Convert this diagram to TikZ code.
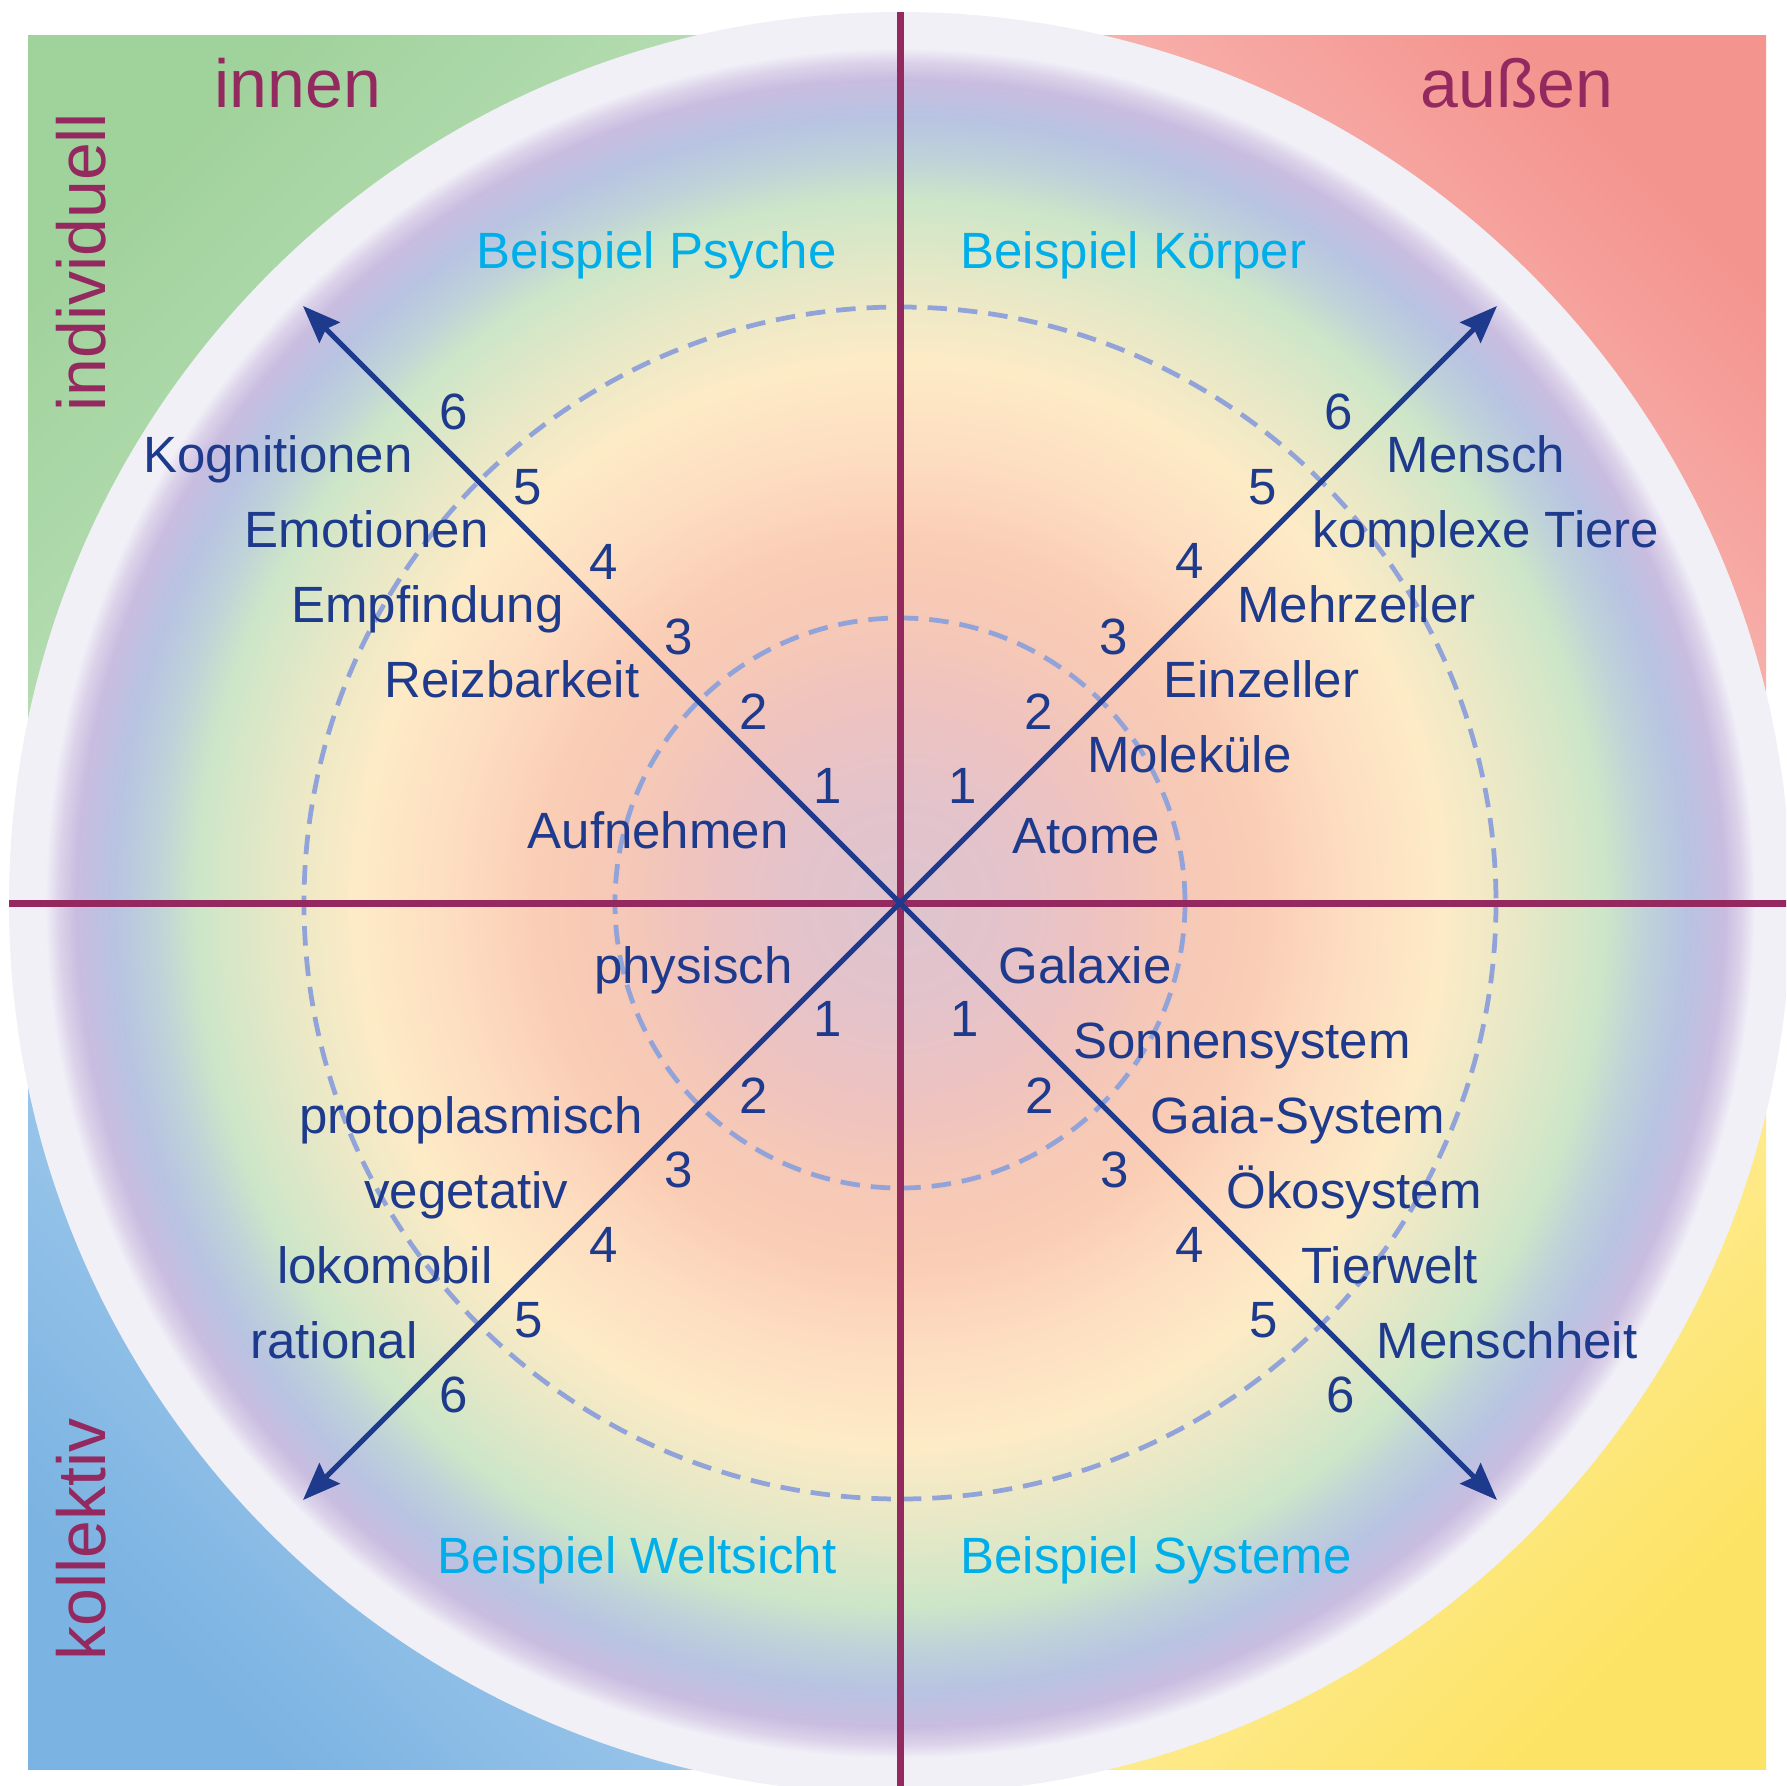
\documentclass[tikz,border=0pt]{standalone}
\usepackage{fontspec}
\setmainfont{Liberation Sans}
\usetikzlibrary{arrows.meta}
\definecolor{crim}{HTML}{93295F}
\definecolor{navy}{HTML}{1E3A8C}
\definecolor{sky}{HTML}{00AEEA}
\definecolor{dashc}{HTML}{91A3D8}
\definecolor{lav}{HTML}{F1F0F7}
\definecolor{gTLd}{HTML}{A0D29C}
\definecolor{gTLl}{HTML}{DAEFD8}
\definecolor{gTRd}{HTML}{F4948F}
\definecolor{gTRl}{HTML}{FFE6E1}
\definecolor{gBLd}{HTML}{7BB3E2}
\definecolor{gBLl}{HTML}{D0E6F7}
\definecolor{gBRd}{HTML}{FDE365}
\definecolor{gBRl}{HTML}{FFF9DA}
\definecolor{r0}{HTML}{DEC4CE}
\definecolor{r1}{HTML}{E4C3CB}
\definecolor{r2}{HTML}{EEC3C0}
\definecolor{r3}{HTML}{F6C8B7}
\definecolor{r4}{HTML}{FACDB5}
\definecolor{r5}{HTML}{FDDCC0}
\definecolor{r6}{HTML}{FDEBC6}
\definecolor{r7}{HTML}{E8E8C6}
\definecolor{r8}{HTML}{CDE6C8}
\definecolor{r9}{HTML}{BFD2D9}
\definecolor{r10}{HTML}{B8C3E2}
\definecolor{r11}{HTML}{C9BDE0}
\definecolor{r12}{HTML}{DCD3EA}
\pgfdeclareradialshading{rainbow}{\pgfpointorigin}{%
 color(0bp)=(r0); color(3.2bp)=(r1); color(5.85bp)=(r2); color(8.2bp)=(r3);
 color(10.5bp)=(r4); color(12.9bp)=(r5); color(15.85bp)=(r6); color(18.1bp)=(r7);
 color(20.55bp)=(r8); color(21.8bp)=(r9); color(23bp)=(r10); color(24.1bp)=(r11);
 color(24.6bp)=(r12); color(25bp)=(lav); color(50bp)=(lav)}
\begin{document}
\begin{tikzpicture}[x=0.4pt,y=-0.4pt,
  lbl/.style={text=navy,font=\fontsize{20.4}{24}\selectfont,inner sep=0pt},
  num/.style={lbl,anchor=center},
  lw/.style={lbl,anchor=base west},
  le/.style={lbl,anchor=base east},
  corner/.style={text=crim,font=\fontsize{27.2}{32}\selectfont,inner sep=0pt},
  ex/.style={text=sky,font=\fontsize{20.4}{24}\selectfont,inner sep=0pt},
  axisline/.style={crim,line width=2.8pt},
  arm/.style={navy,line width=2pt,-{Stealth[length=15pt,width=11.5pt,inset=2pt]}},
  ring/.style={dashc,line width=1.9pt,dash pattern=on 7.8pt off 4.4pt}]
\useasboundingbox (0,0) rectangle (1786,1786);
\fill[white] (0,0) rectangle (1786,1786);
\begin{scope}
\clip (0,0) rectangle (1786,1786);
\shade[top color=gTLd, bottom color=gTLl, shading angle=45] (28,35) rectangle (900,903);
\shade[top color=gTRd, bottom color=gTRl, shading angle=-45] (900,35) rectangle (1766,903);
\shade[top color=gBLl, bottom color=gBLd, shading angle=-45] (28,903) rectangle (900,1769);
\shade[top color=gBRl, bottom color=gBRd, shading angle=45] (900,903) rectangle (1766,1769);
\coordinate (O) at (900,903);
\fill[lav] (O) circle[radius=891];
\shade[shading=rainbow] (O) circle[radius=855];
\draw[ring] (O) circle[radius=285];
\draw[ring] (O) circle[radius=596];
\coordinate (T) at (900,12);
\coordinate (B) at (900,1794);
\coordinate (L) at (9,903);
\coordinate (R) at (1791,903);
\draw[axisline] (T) -- (B);
\draw[axisline] (L) -- (R);
\end{scope}
\coordinate (TLa) at (303,306);
\coordinate (TRa) at (1497,306);
\coordinate (BLa) at (303,1500);
\coordinate (BRa) at (1497,1500);
\draw[arm] (O) -- (TLa);
\draw[arm] (O) -- (TRa);
\draw[arm] (O) -- (BLa);
\draw[arm] (O) -- (BRa);
% corner labels
\node[corner,anchor=base west] (innen) at (214,107) {innen};
\node[corner,anchor=base west] (aussen) at (1420,107) {außen};
\node[corner,anchor=base west,rotate=90] (indiv) at (105,412) {individuell};
\node[corner,anchor=base west,rotate=90] (koll) at (105,1661) {kollektiv};
% example labels
\node[ex,anchor=base east] (bpsy) at (837,268) {Beispiel Psyche};
\node[ex,anchor=base west] (bkoe) at (960,268) {Beispiel Körper};
\node[ex,anchor=base east] (bwel) at (837,1573) {Beispiel Weltsicht};
\node[ex,anchor=base west] (bsys) at (960,1573) {Beispiel Systeme};
% numbers top left
\node[num] (tl1) at (828,786) {1};
\node[num] (tl2) at (754,712) {2};
\node[num] (tl3) at (679,637) {3};
\node[num] (tl4) at (604,562) {4};
\node[num] (tl5) at (528,487) {5};
\node[num] (tl6) at (454,412) {6};
% numbers top right
\node[num] (tr1) at (963,786) {1};
\node[num] (tr2) at (1039,712) {2};
\node[num] (tr3) at (1114,637) {3};
\node[num] (tr4) at (1190,561) {4};
\node[num] (tr5) at (1263,487) {5};
\node[num] (tr6) at (1339,412) {6};
% numbers bottom left
\node[num] (bl1) at (828,1019) {1};
\node[num] (bl2) at (754,1096) {2};
\node[num] (bl3) at (679,1170) {3};
\node[num] (bl4) at (604,1245) {4};
\node[num] (bl5) at (529,1320) {5};
\node[num] (bl6) at (454,1395) {6};
% numbers bottom right
\node[num] (br1) at (965,1019) {1};
\node[num] (br2) at (1040,1096) {2};
\node[num] (br3) at (1115,1170) {3};
\node[num] (br4) at (1190,1245) {4};
\node[num] (br5) at (1264,1320) {5};
\node[num] (br6) at (1341,1395) {6};
% top left labels
\node[le] (kog) at (413,472) {Kognitionen};
\node[le] (emo) at (489,547) {Emotionen};
\node[le] (emp) at (564,622) {Empfindung};
\node[le] (rei) at (640,697) {Reizbarkeit};
\node[le] (auf) at (789,848) {Aufnehmen};
% top right labels
\node[lw] (men) at (1386,472) {Mensch};
\node[lw] (kom) at (1312,547) {komplexe Tiere};
\node[lw] (meh) at (1237,622) {Mehrzeller};
\node[lw] (ein) at (1163,697) {Einzeller};
\node[lw] (mol) at (1087,772) {Moleküle};
\node[lw] (ato) at (1012,853) {Atome};
% bottom left labels
\node[le] (phy) at (793,983) {physisch};
\node[le] (pro) at (643,1133) {protoplasmisch};
\node[le] (veg) at (569,1208) {vegetativ};
\node[le] (lok) at (493,1283) {lokomobil};
\node[le] (rat) at (418,1358) {rational};
% bottom right labels
\node[lw] (gal) at (998,983) {Galaxie};
\node[lw] (son) at (1073,1058) {Sonnensystem};
\node[lw] (gai) at (1150,1133) {Gaia-System};
\node[lw] (oek) at (1226,1208) {Ökosystem};
\node[lw] (tie) at (1301,1283) {Tierwelt};
\node[lw] (msh) at (1376,1358) {Menschheit};
\end{tikzpicture}
\end{document}
